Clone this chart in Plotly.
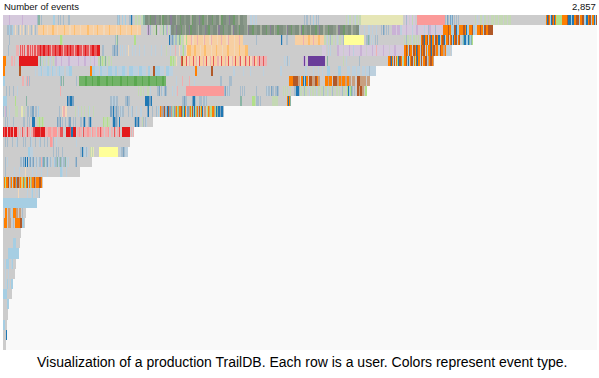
import plotly.graph_objects as go

TOTAL_EVENTS = 2857
TOTAL_BINS = 593          # runs below are counted in display bins of about 4.8 events
TITLE_LEFT = "Number of events"
TITLE_RIGHT = "2,857"
CAPTION = "Visualization of a production TrailDB. Each row is a user. Colors represent event type."

event_colors = {
    "g": "#cccccc", "lb": "#a6cee3", "b": "#1f78b4", "lg": "#b2df8a", "gr": "#33a02c",
    "pk": "#fb9a99", "r": "#e31a1c", "lo": "#fdbf6f", "o": "#ff7f00", "lv": "#cab2d6",
    "pu": "#6a3d9a", "y": "#ffff99", "br": "#b15928",
    # tones where several event types share one pixel
    "v2": "#d5c9dc", "s": "#a8bccb", "sb": "#7ba3c2", "sg": "#c4d8b4", "t": "#8ab5a5",
    "ls": "#bcd0de", "o2": "#f7cfa2", "o3": "#f1d8ba", "r2": "#e8585a", "p2": "#eeb1b1",
    "y2": "#e6e6b6", "bp": "#c8a080", "gm": "#72b368", "gm2": "#5aa84f",
    "d1": "#7f8f80", "d2": "#8c9a8b", "d3": "#6f9a6a", "d4": "#8a8098", "d5": "#a8b0a0",
}

row_01 = ["v2",6,"lv",1,"v2",12,"lv",1,"v2",14,"s",1,"t",2,"g",1,"s",1,"g",11,"lb",2,"g",3,"s",1,"g",1,"s",1,"g",2,"s",1,"g",4,"s",2,"g",47,"s",1,"lb",1,"s",1,"g",2,"lb",1,"g",2,"lb",1,"g",3,"s",2,"b",1,"s",1,"g",2,"sg",2,"g",1,"sg",2,"g",1,"sg",2,"t",2,
          "d1",3,"d2",2,"d3",1,"d1",4,"d4",1,"d2",3,"d1",2,"d5",1,"d3",2,"d1",3,"d2",2,"d1",1,"d4",2,"d1",4,"d5",1,"d2",3,"d3",1,"d1",3,"d2",2,"d1",4,"d5",2,"d3",1,"d1",3,"d2",3,"d4",1,"d1",2,"d3",2,"d2",3,"d5",1,"d1",4,"d3",1,"d2",3,"d1",3,"d5",2,"d3",2,"d1",3,"d2",3,"d4",1,"d1",3,"d3",2,"d2",3,"d5",2,"d1",3,"d2",4,
          "g",3,"ls",2,"g",1,"ls",2,"g",1,"ls",1,"g",43,"g",4,"s",1,"g",1,"s",2,"g",2,"s",1,"g",2,"lb",1,"g",2,"s",1,"g",1,"s",1,"g",27,"sg",1,"g",1,"ls",1,"sg",2,"g",2,"sg",1,"g",1,"ls",1,"sg",2,"g",1,"sg",2,"y2",42,"g",2,"v2",1,"s",1,"v2",2,"g",1,"v2",2,"sg",1,"v2",2,"g",2,"pk",28,
          "s",1,"g",1,"sb",1,"s",1,"g",1,"sb",1,"lb",1,"sb",1,"g",1,"s",1,"g",1,"s",1,"g",1,"s",1,"g",16,"sg",1,"g",1,"ls",1,"g",2,"sg",2,"g",1,"ls",1,"sg",2,"g",2,"sg",1,"g",2,"sg",3,"g",1,"sg",3,"g",1,"sg",2,"sg",2,"g",1,"sg",3,"g",1,"sg",3,"g",35,
          "o",1,"b",1,"br",1,"o",1,"lb",1,"b",1,"br",1,"o",1,"b",1,"o",1,"lg",6,"o",5,"br",1,"b",3,"lb",1,"b",2,"o",2,"br",3,"lb",1,"o",2,"br",2,"lb",2,"b",2,"o",1,"br",2,"lb",1,"o",2,"b",1,"lb",1,"br",1,"b",2]
row_02 = ["g",4,"s",2,"lb",1,"s",2,"lb",1,"g",2,"o3",1,"g",2,"s",1,"g",1,"o3",1,"g",2,"o3",1,"g",1,"s",1,"g",2,"o3",1,"g",2,"s",1,"g",1,"o3",1,"g",1,"s",1,"g",2,
          "o2",5,"lo",1,"o2",3,"o3",1,"o2",4,"lo",2,"o2",3,"o3",1,"o2",6,"lo",1,"o2",4,"o3",2,"o2",3,"lo",1,"o2",5,"o3",1,"o2",6,"lo",2,"o2",4,"o3",1,"o2",3,"lo",1,"o2",5,"o3",2,"o2",4,"lo",1,"o2",6,"o3",1,"o2",3,"lo",1,"o2",5,"o3",1,"o2",4,"lo",1,"o2",5,"o3",1,"o2",3,
          "g",6,"lv",1,"d4",1,"lv",1,"s",1,"g",2,"sg",1,"g",1,"sg",1,"d3",1,"g",1,"v2",1,"g",1,"sg",1,"g",1,"sg",1,"t",1,"g",1,"sg",1,"s",1,"lv",1,"sg",1,"g",1,"s",1,
          "d1",3,"d2",2,"d4",1,"d1",4,"d3",1,"d2",3,"d5",1,"d1",3,"d4",1,"d3",2,"d1",4,"d2",2,"d5",1,"d1",3,"d2",3,"d4",1,"d1",2,"d3",2,"d2",3,"d1",4,"d5",1,"d4",2,"d1",3,"d3",1,"d2",4,"d1",3,"d5",2,"d4",1,"d1",3,"d2",2,"d3",1,"d1",4,"d2",3,"d5",1,"d4",1,"d1",3,"d3",2,"d2",3,"d1",3,"d5",2,
          "d1",4,"d3",1,"d2",3,"d4",1,"d1",3,"d5",1,"d2",2,"d3",2,"d1",4,"d2",3,"d5",1,"d4",1,"d1",3,"d3",1,"d2",3,"d1",4,"d5",2,"d4",1,"d3",2,"d2",3,"d1",3,"d5",1,"d1",4,"d3",2,"d2",2,"d4",1,"d1",3,"d5",2,"d2",3,"d3",1,"d1",4,"d2",3,"d5",2,"d4",2,"d1",3,"d3",2,"d2",3,"d1",3,"d5",2,"d2",3,"d1",3,
          "ls",1,"g",4,"ls",1,"g",3,"ls",2,"g",2,"ls",1,"g",3,"ls",1,"g",4,"s",1,"g",1,"sb",1,"s",1,"g",1,"s",1,"g",1,"s",1,"g",1,"g",2,"lv",4,"v2",1,"lv",3,
          "ls",2,"v2",4,"lv",1,"v2",5,"ls",1,"v2",3,"lv",2,"v2",6,"ls",1,"v2",3,"s",1,"lv",2,"v2",4,"s",1,"v2",3,"v2",4,
          "o",5,"br",1,"o",2,"lb",3,"br",2,"b",1,"lb",2,"o",4,"br",2,"o",1,"b",1,"lb",2,"o",3,"br",1,"lb",2,"g",2,"o",3,"br",1,"o",2,"lb",1,"br",2,"o",2,"br",3,"br",2]
row_03 = ["g",6,"s",1,"g",50,"lg",2,"sg",1,"g",52,"s",1,"sg",1,"t",1,"g",16,"lg",2,"g",33,"b",1,"s",2,"sb",1,"s",1,"sg",1,"s",2,"sg",2,"t",1,"lg",1,"g",1,"sg",2,"o3",2,"lg",1,
          "o2",4,"p2",1,"o3",2,"o2",3,"p2",1,"o2",5,"o3",1,"p2",1,"o2",4,"o3",2,"p2",1,"o2",5,"o3",1,"o2",3,"p2",1,"o2",4,"o3",2,"p2",1,"o2",5,"o3",1,"o2",4,"p2",1,"o2",3,
          "g",13,"s",1,"g",24,"b",1,"s",1,"g",3,"s",2,"g",7,"o2",5,"o2",3,"p2",1,"o2",4,"lo",2,"o2",3,"p2",1,"o2",4,"lo",2,"o2",4,
          "sg",2,"g",1,"ls",1,"sg",1,"g",1,"s",1,"sg",2,"g",2,"sg",1,"g",1,"ls",1,"g",1,"sg",2,"g",2,"s",1,"y",20,"g",2,"s",2,"t",1,"s",1,"g",1,"ls",1,"g",1,"ls",1,"g",1,"s",1,"g",1,"s",1,"g",2,"g",24,
          "sg",1,"g",1,"s",1,"sg",2,"g",1,"sg",1,"g",1,"ls",1,"sg",2,"g",1,"sg",1,"g",1,"sg",1,"g",1,"ls",1,
          "o",1,"br",2,"b",1,"o",2,"br",1,"lb",1,"o",1,"br",1,"b",1,"o",2,"lb",1,"br",2,"o",1,"b",2,"lb",1,"o",1,"br",2,"b",1,"lb",1,"o",2,"br",1,"g",1,"o",1,"br",1,"lb",1,"b",1,"o",1,"br",2,"lb",1,"o",1,"br",1,"g",2,"lb",1,"t",1,"b",2,"lb",2,"b",1,"t",1,"lb",1,"t",1,"lg",1]
row_04 = ["g",5,"s",1,"g",7,"p2",2,"p2",1,"g",1,"r2",1,"p2",1,"r2",1,"p2",1,"r2",1,"g",1,"p2",1,"r2",2,"p2",1,"r2",1,"p2",1,"r2",1,"p2",1,"r2",2,"p2",1,
          "r2",3,"r",1,"r2",2,"r",2,"r2",3,"r",1,"r2",2,"p2",1,"r2",3,"r",1,"r2",3,"r",2,"r2",2,"p2",1,"r2",3,"r",1,"r2",2,"r",1,"r2",3,"p2",1,"r2",2,"r",2,"r2",3,"p2",1,"r2",2,"r",1,"r2",3,"p2",1,"r2",2,"r",2,"r2",3,"r",3,
          "g",2,"s",2,"g",8,"s",2,"sb",1,"s",2,"sb",1,"g",2,"ls",1,"g",1,"ls",1,"g",2,"ls",1,"g",2,"o3",1,"g",3,"ls",1,"g",2,"ls",1,"g",3,"ls",1,"g",4,"ls",1,"g",6,"ls",1,"g",3,"ls",1,"g",5,"ls",1,"g",4,"sg",1,"g",3,"ls",1,"g",4,"p2",1,"g",3,"o3",1,"g",2,"sg",1,"lg",1,"g",2,"o3",1,
          "lo",4,"o2",3,"lo",2,"o2",4,"o3",1,"o2",3,"lo",2,"o2",5,"o3",1,"o2",4,"lo",1,"o2",5,"o3",1,"o2",4,"lo",2,"o2",5,"o3",1,"o2",4,"lo",1,"o2",5,"lo",3,
          "g",52,"g",22,"v2",4,"g",2,"ls",1,"g",1,"ls",1,"g",2,"g",4,"lv",2,"v2",4,"g",1,"v2",5,"lv",1,"v2",3,"ls",1,"v2",6,"lv",2,"v2",4,"g",1,"v2",5,"lv",1,"v2",3,"p2",1,"v2",6,"lv",1,"v2",5,"g",1,"v2",4,"lv",2,"v2",8,
          "o",2,"br",1,"o",1,"lb",1,"br",1,"o",2,"g",1,"br",2,"o",1,"b",1,"br",1,"o",2,"lb",1,"br",1,"o",1,"br",2,"g",1,"o",1,"lb",1,"o",2,"br",1,"b",1,"o",1,"br",2,"bp",1,"o",2,"lb",1,"g",1,"br",1,"o",2,"bp",2,"o",1,"g",1,"ls",3,"g",1,"ls",1]
row_05 = ["o",3,"g",5,"p2",2,"g",1,"p2",1,"g",4,"r",19,"g",2,"t",1,"g",1,"ls",1,"sg",1,"g",2,"ls",1,"g",1,"sg",1,"g",1,"ls",1,"g",2,"sg",1,"g",1,
          "lv",2,"v2",4,"lv",1,"v2",6,"lv",2,"v2",3,"v2",5,"lv",1,"v2",5,"lv",2,"v2",4,"g",1,"v2",3,"lv",1,"v2",3,"sg",2,"t",1,"sg",1,"lg",1,"sg",2,"t",1,"sg",1,"g",1,"sg",2,"g",1,"sg",1,"g",2,"g",56,"lg",2,"sg",1,"lg",1,"sg",2,"o3",1,"g",3,"sg",1,"r2",1,"br",1,
          "o2",3,"r2",1,"o3",2,"p2",1,"o2",3,"r2",1,"o2",2,"p2",1,"o3",2,"r2",1,"o2",3,"p2",1,"o2",2,"r2",1,"o3",3,"p2",1,"o2",2,"r2",1,"o2",3,"p2",2,"o3",2,"r2",1,"o2",3,"p2",1,"o2",2,"r2",1,"o3",3,"p2",1,"o2",2,"r2",1,"o2",3,"p2",1,"r2",1,"o3",2,"o2",2,"r2",1,"p2",1,"o2",2,"r2",1,"o3",2,"p2",2,"r2",1,"o2",2,"p2",2,"r2",1,"p2",3,"r2",1,"p2",3,"g",3,
          "g",14,"ls",1,"g",1,"ls",1,"s",1,"g",1,"ls",1,"g",12,"g",1,"lv",1,"pu",1,"lv",1,"g",2,"pu",17,"g",2,"t",1,"g",15,"sg",1,"g",2,"ls",1,"g",12,"s",1,"g",28,
          "o",2,"br",1,"b",1,"o",1,"lb",1,"br",1,"g",1,"o",1,"lg",1,"b",1,"br",2,"o",1,"lb",1,"lg",1,"o",2,"br",1,"lb",1,"b",1,"g",1,"o",1,"br",2,"lb",1,"o",1,"lg",1,"br",1,"b",1,"o",2,"lb",1,"br",1,"g",1,"o",2,"br",2,"lb",1,"bp",1,"o",1,"br",1,"br",1,"o",1,"bp",1]
row_06 = ["o",2,"g",14,"br",2,"g",14,"ls",1,"g",2,"ls",3,"lb",1,"g",1,"ls",4,"lb",2,"ls",2,"g",1,"lb",1,"ls",3,"g",1,"ls",2,"lb",1,"ls",4,"g",2,"ls",3,"lb",3,"g",18,"o",2,
          "lb",3,"ls",4,"g",1,"lb",2,"ls",5,"g",1,"lb",4,"ls",3,"lb",2,"g",1,"ls",4,"lb",3,"ls",2,"g",2,"lb",4,"ls",5,"g",1,"lb",3,"ls",4,"g",2,"lb",2,"g",3,"br",2,"lb",5,"ls",4,"g",2,"lb",3,"ls",4,"g",2,"g",20,"o",2,"g",14,"br",2,
          "g",20,"ls",2,"g",8,"ls",1,"g",6,"ls",1,"g",12,"ls",1,"g",16,"ls",2,"g",18,"g",5,"ls",2,"g",6,"ls",1,"g",4,"ls",1,"g",3,"ls",1,"g",4,"lb",3,"g",8,"lb",3,"g",6,"ls",3,"g",2,"ls",4,"g",1,"ls",3,"g",2,"ls",3,"g",1,"ls",3,"s",1,"ls",6]
row_07 = ["lb",2,"g",17,"p2",2,"g",2,"p2",1,"s",1,"p2",1,"s",1,"g",30,"s",1,"t",1,"g",1,"t",1,"g",4,"g",8,"s",1,"g",2,
          "gm",6,"gm2",2,"gm",5,"gm2",1,"gm",4,"gm2",3,"gm",6,"gm2",2,"gm",4,"gm2",1,"gm",7,"gm2",2,"gm",5,"gm2",1,"gm",6,"gm2",3,"gm",5,"gm2",1,"gm",5,"gm2",2,"gm",6,"gm2",1,"gm",5,"gm2",2,"gm",2,
          "g",10,"ls",1,"g",5,"p2",1,"g",6,"p2",1,"g",4,"ls",1,"g",1,"g",24,"s",2,"g",7,"s",3,"g",57,
          "o",4,"br",5,"bp",2,"g",1,"o",2,"b",1,"lb",1,"b",1,"o",2,"g",1,"br",3,"bp",3,"br",2,"o",1,"bp",2,"g",1,"g",4,"o",3,"bp",1,"o",3,"g",1,"br",4,"bp",2,"o",2,"bp",1,"o",3,"bp",2,"o",2,"bp",2,"g",1,"bp",3,"g",2,"br",3,"bp",2,"bp",4,"g",1,"bp",3]
row_08 = ["g",3,"s",1,"g",2,"s",1,"g",3,"s",1,"g",3,"ls",1,"g",42,"p2",1,"g",77,"sg",1,"g",1,"sg",2,"g",1,"sg",1,"g",3,"sg",2,"g",1,"ls",1,"g",2,"g",4,"s",2,"sb",1,"g",1,"s",1,"ls",1,"g",1,"s",1,"sb",1,"s",1,"g",5,"ls",1,"g",2,"ls",1,"g",1,"p2",1,"g",8,"pk",38,
          "s",1,"sb",1,"g",1,"s",1,"ls",1,"s",1,"g",1,"g",9,"s",1,"g",1,"s",1,"g",1,"s",1,"g",11,"s",1,"g",9,"s",1,"ls",1,"s",2,"g",1,"sb",1,"s",2,"g",1,"s",2,"sb",1,"s",1,"g",4,"sg",1,"g",1,"sg",1,"g",1,"sg",1,"g",2,"sg",1,"g",3,"s",2,"b",3,"s",1,
          "sg",2,"g",1,"sg",1,"s",1,"sg",2,"g",2,"ls",1,"sg",1,"g",1,"sg",2,"g",1,"sg",1,"ls",1,"g",1,"sg",2,"g",1,"sg",2,"s",1,"g",1,"sg",2,"ls",1,"g",1,"sg",2,"g",1,"s",1,"sg",1,"g",2,"sg",2,"g",1,"sg",1,"g",2,"s",1,"sg",2,"g",2,"lg",1,"b",1,"lb",1,"lg",1,"t",1,"s",1,"g",1,"s",1,"g",2,"br",2,"bp",1,"br",2,"bp",2,"g",1,"lg",2]
row_09 = ["lb",4,"g",8,"lg",1,"g",10,"t",1,"g",40,"b",1,"sb",2,"b",2,"sb",2,"g",36,"s",2,"ls",1,"s",2,"ls",1,"s",2,"g",7,"s",2,"sb",1,"s",2,"g",15,"b",4,"sb",2,"b",1,"g",30,"s",2,"sb",1,"s",2,"g",5,"sb",1,"b",2,"s",1,"g",3,"s",2,"s",1,"g",1,"s",2,"ls",1,"s",1,"g",33,"t",2,"g",10,"lg",3,"sg",1,"s",3,"g",1,"s",1,"g",11,"sg",6,"g",9,"o",1,"b",1,"o",1,"t",1]
row_10 = ["s",1,"g",1,"lv",1,"s",1,"g",2,"ls",1,"g",5,"sg",3,"g",3,"y2",2,"g",1,"sg",1,"g",2,"s",2,"g",1,"s",2,"sb",2,"g",1,"s",2,"g",1,"lb",1,"g",20,"s",1,"g",2,"o3",1,"p2",2,"o3",2,"g",8,"sg",1,"g",2,"ls",1,"g",2,"sg",1,"g",2,"sg",1,"g",3,"sg",1,"ls",1,"g",3,"sg",1,"g",1,"g",15,"sb",2,"s",1,"b",1,"s",2,"sb",1,"s",2,"g",1,"s",1,"ls",1,"s",2,"g",4,"s",1,"g",2,"ls",1,"s",1,"g",3,"ls",1,"g",3,"ls",2,"g",3,"g",2,"sb",1,"b",1,"g",3,"s",1,"g",3,"s",1,"g",1,"lb",1,"g",1,
          "o",1,"bp",2,"sb",1,"br",1,"s",2,"b",1,"br",1,"sb",2,"bp",1,"s",1,"lg",1,"sb",1,"bp",1,"o",1,"lg",1,"t",1,"o",2,"br",1,"sb",1,"lg",1,"b",1,"o",1,"g",1,"sb",2,"bp",1,"o",1,"lg",1,"br",1,"s",1,"b",1,"lg",1,"bp",1,"o",1,"s",1,"br",1,"lg",1,"o",1,"b",1,"g",1,"bp",2,"g",1,"lg",1,"o",1,"bp",1,"lg",2,"o",2,"bp",1,"lg",1,"b",1,"t",1,"b",2,"sb",1,"b",2,"s",1]
row_11 = ["g",2,"s",1,"g",1,"s",1,"g",1,"ls",1,"g",3,"s",1,"g",1,"g",8,"s",2,"g",2,"s",1,"g",1,"s",1,"g",2,"b",3,"g",2,"sg",2,"lg",1,"sg",2,"lg",1,"sg",1,"g",13,"sb",1,"s",2,"sb",1,"g",1,"s",1,"g",2,"s",1,"g",2,"s",1,"sb",2,"g",2,"s",1,"g",1,"s",1,"g",4,"s",2,"g",1,"sb",1,"b",1,"s",1,"g",2,"s",1,"sb",1,"b",1,"s",1,"g",11,"lg",1,"sg",3,"lg",1,"sg",2,"g",2,"s",1,"b",2,"sb",2,"s",1,"g",1,"b",1,"g",14,"s",1,"b",1,"sb",2,"b",1,"s",1,"g",2,"sg",1,"s",1,"g",1,"s",1,"ls",1,"g",6]
row_12 = ["r",1,"r2",1,"r",2,"p2",1,"r",2,"r2",1,"r",2,"p2",1,"r",3,"p2",2,"g",1,"p2",1,"g",1,"r2",1,"p2",2,"g",1,"p2",1,"r2",1,"p2",2,"g",1,"p2",2,"r2",2,"r",5,"r2",1,"r",4,"p2",3,"pk",3,"p2",2,"pk",4,"g",1,"p2",2,"r2",3,"g",3,"r",4,"r2",1,"b",2,"r",3,"g",1,"p2",2,"pk",1,"p2",2,"g",1,"r2",1,"p2",3,"pk",2,"p2",2,"g",1,"pk",1,"p2",3,"g",1,"pk",2,"p2",1,"r2",1,"pk",1,"p2",2,"g",1,"p2",3,"pk",1,"g",2,"p2",2,"g",1,"r2",1,"p2",1,"g",1,"p2",2,"r2",1,"g",2,"r",8,"g",1,"p2",1,"g",1,"p2",1]
row_13 = ["g",2,"s",1,"g",1,"s",1,"g",4,"s",1,"g",3,"ls",1,"s",1,"g",5,"s",1,"g",1,"s",1,"g",4,"s",1,"ls",1,"g",3,"s",1,"g",3,"ls",1,"s",1,"g",3,"s",1,"g",2,"s",1,"g",2,"pk",2,"p2",1,"s",1,"g",2,"ls",1,"g",19,"ls",1,"g",53]
row_14 = ["g",25,"lb",2,"ls",3,"g",20,"s",1,"g",2,"s",1,"g",1,"s",1,"g",3,"s",1,"g",17,"s",2,"b",1,"s",1,"ls",2,"s",1,"ls",1,"g",2,"sg",1,"y2",1,"sg",1,"y2",1,"g",1,"g",4,"y",19,"g",2,"ls",1,"s",2,"sb",1,"s",1,"ls",3]
row_15 = ["g",2,"s",1,"g",1,"ls",1,"g",12,"s",2,"ls",1,"sb",1,"s",1,"b",1,"ls",1,"b",1,"g",1,"s",1,"sb",1,"ls",1,"s",1,"sb",1,"g",1,"ls",1,"s",1,"g",1,"ls",1,"s",2,"p2",1,"s",1,"sb",1,"t",1,"ls",1,"s",1,"sb",1,"ls",1,"g",1,"s",1,"ls",1,"g",2,"lb",1,"s",2,"t",1,"ls",1,"s",1,"t",1,"s",1,"ls",1,"s",2,"t",1,"ls",1,"g",1,"ls",1,"g",6,"s",1,"sb",1,"g",15]
row_16 = ["g",2,"s",1,"g",8,"ls",1,"g",4,"ls",1,"g",5,"o3",1,"g",6,"ls",1,"g",3,"ls",1,"g",4,"ls",1,"g",5,"ls",1,"g",12,"lb",2,"ls",1,"g",3,"ls",1,"g",13]
row_17 = ["g",1,"o",1,"lg",1,"o",2,"br",1,"g",1,"bp",1,"o",1,"lb",1,"o",1,"br",1,"o",1,"sb",1,"br",2,"bp",1,"o",1,"lo",1,"lg",1,"o",1,"t",1,"lg",1,"o",1,"br",1,"lb",1,"o",1,"lg",1,"bp",1,"o",2,"br",1,"bp",1,"o",3,"br",2,"o",1,"g",1]
row_18 = ["g",15,"o3",1,"g",8,"ls",1,"g",3,"ls",1,"lb",1,"g",2,"ls",1,"g",2,"ls",1,"s",1]
row_19 = ["lb",34]
row_20 = ["g",2,"o",2,"g",1,"bp",2,"s",1,"g",1,"lb",1,"o",3,"bp",2,"g",1,"bp",2,"g",1,"s",1,"g",3]
row_21 = ["g",1,"o",3,"g",1,"bp",3,"g",2,"s",1,"g",1,"o",5,"br",2,"lb",2,"g",1]
row_22 = ["g",18]
row_23 = ["g",10,"lb",3,"g",4]
row_24 = ["g",5,"lb",11]
row_25 = ["g",1,"ls",1,"g",1,"lb",3,"g",2,"ls",1,"lb",1,"g",3]
row_26 = ["g",2,"ls",1,"g",2,"ls",1,"g",5.5]
row_27 = ["g",2,"ls",1,"g",1,"lb",1,"g",1,"ls",1,"g",1,"lb",2]
row_28 = ["lb",4,"g",5]
row_29 = ["g",4,"lb",2]
row_30 = ["g",5]
row_31 = ["lb",2,"g",2]
row_32 = ["g",3,"b",1]
row_33 = ["g",3]

rows = [row_01,row_02,row_03,row_04,row_05,row_06,row_07,row_08,row_09,row_10,row_11,
        row_12,row_13,row_14,row_15,row_16,row_17,row_18,row_19,row_20,row_21,row_22,
        row_23,row_24,row_25,row_26,row_27,row_28,row_29,row_30,row_31,row_32,row_33]

events_per_bin = TOTAL_EVENTS / TOTAL_BINS
fig = go.Figure()
for i, row in enumerate(rows):
    codes, runs = row[::2], row[1::2]
    fig.add_trace(go.Bar(
        orientation="h",
        y=[i] * len(runs),
        x=[r * events_per_bin for r in runs],
        width=1,
        marker=dict(color=[event_colors[c] for c in codes], line=dict(width=0)),
        hoverinfo="skip",
        showlegend=False,
    ))

fig.update_layout(
    barmode="stack", bargap=0,
    width=599, height=378,
    margin=dict(l=3, r=2, t=15, b=28),
    paper_bgcolor="#ffffff", plot_bgcolor="#f9f9f9",
    font=dict(family="Liberation Sans, Arial, sans-serif", color="#111111"),
    xaxis=dict(range=[0, TOTAL_EVENTS * 594 / 593], visible=False, fixedrange=True),
    yaxis=dict(range=[len(rows) - 0.5, -0.5], visible=False, fixedrange=True),
    annotations=[
        dict(text=TITLE_LEFT, x=0, y=1, xref="paper", yref="paper", xanchor="left", yanchor="bottom",
             yshift=2, showarrow=False, font=dict(size=9.5), borderpad=0, align="left"),
        dict(text=TITLE_RIGHT, x=1, y=1, xref="paper", yref="paper", xanchor="right", yanchor="bottom",
             yshift=2, showarrow=False, font=dict(size=9.5), borderpad=0, align="right"),
        dict(text=CAPTION, x=0.5034, y=0, xref="paper", yref="paper", xanchor="center", yanchor="top",
             yshift=-3, showarrow=False, font=dict(size=14, color="#000000"), borderpad=0),
    ],
)
fig.write_html("out.html", config={"displayModeBar": False},
               post_script="document.body.style.margin='0';document.documentElement.style.overflow='hidden';")
